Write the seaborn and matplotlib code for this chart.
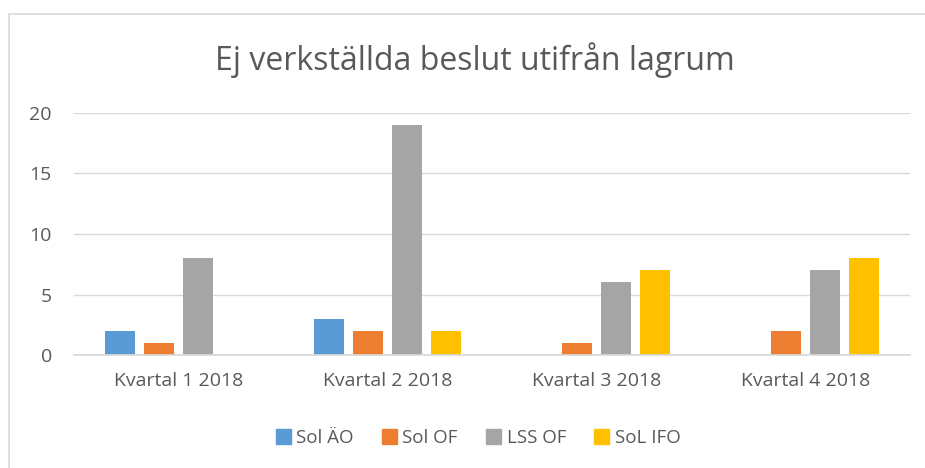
import matplotlib
matplotlib.use("Agg")
import matplotlib.pyplot as plt
import matplotlib.patches as mpatches
import pandas as pd
import seaborn as sns

# data
kvartal = ["Kvartal 1 2018", "Kvartal 2 2018", "Kvartal 3 2018", "Kvartal 4 2018"]
serier = ["Sol ÄO", "Sol OF", "LSS OF", "SoL IFO"]
sol_ao = [2, 3, 0, 0]
sol_of = [1, 2, 1, 2]
lss_of = [8, 19, 6, 7]
sol_ifo = [0, 2, 7, 8]
farger = ["#5B9BD5", "#ED7D31", "#A5A5A5", "#FFC000"]

df = pd.DataFrame({"Kvartal": kvartal, "Sol ÄO": sol_ao, "Sol OF": sol_of,
                   "LSS OF": lss_of, "SoL IFO": sol_ifo})
df = df.melt(id_vars="Kvartal", var_name="Lagrum", value_name="Antal")

sns.set_theme(style="white")
plt.rcParams["font.family"] = ["Open Sans", "DejaVu Sans"]
txt = "#595959"

fig = plt.figure(figsize=(9.25, 4.68), dpi=100)
ax = fig.add_axes([74 / 925, 1 - 355 / 468, (910 - 74) / 925, (355 - 113) / 468])

sns.barplot(data=df, x="Kvartal", y="Antal", hue="Lagrum", hue_order=serier,
            palette=farger, width=0.746, gap=0.23, saturation=1, ax=ax,
            legend=False, linewidth=0)

ax.set_ylim(0, 20)
ax.set_yticks([0, 5, 10, 15, 20])
ax.yaxis.grid(True, color="#D9D9D9", linewidth=1)
ax.set_axisbelow(True)
for s in ["top", "right", "left"]:
    ax.spines[s].set_visible(False)
ax.spines["bottom"].set_color("#D9D9D9")
ax.set_xlabel("")
ax.set_ylabel("")
ax.tick_params(axis="both", length=0, labelsize=14, colors=txt)
ax.tick_params(axis="y", pad=16)
ax.tick_params(axis="x", pad=12)

fig.text(475 / 925, 1 - 60 / 468, "Ej verkställda beslut utifrån lagrum",
         ha="center", va="center", fontsize=23, color=txt)

handles = [mpatches.Patch(color=c, label=n) for c, n in zip(farger, serier)]
fig.legend(handles=handles, loc="center", bbox_to_anchor=(478 / 925, 1 - 438 / 468),
           ncol=4, frameon=False, fontsize=13.5, labelcolor=txt,
           handlelength=0.8, handleheight=0.8, handletextpad=0.3, columnspacing=1.5)

# chart frame, only the top and left edges show in the reference
fig.patches.append(mpatches.Rectangle((9 / 925, -0.1), 1.2, 1 - 14 / 468 + 0.1,
                                      transform=fig.transFigure, fill=False,
                                      edgecolor="#D9D9D9", linewidth=1.2))

fig.savefig("out.png", dpi=100)
